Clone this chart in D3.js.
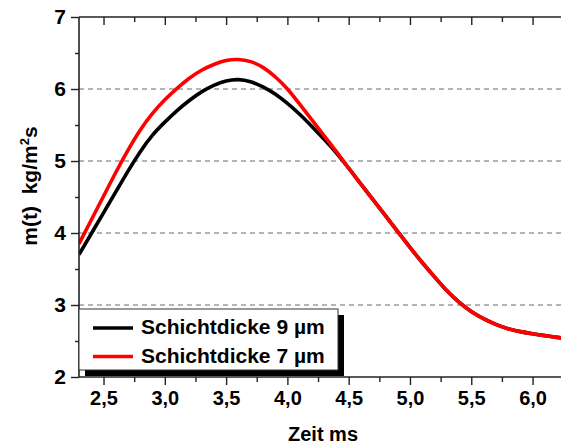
<!DOCTYPE html>
<html>
<head>
<meta charset="utf-8">
<script src="https://cdn.jsdelivr.net/npm/d3@7"></script>
<style>
  html, body { margin: 0; padding: 0; background: #fff; }
  svg { display: block; }
  .tick text { font-family: "Liberation Sans", Arial, sans-serif; font-weight: bold; }
</style>
</head>
<body>
<svg id="chart" width="561" height="445"></svg>
<script>
// Mass flux m(t) over time for two coating thicknesses
const timeMs = [2.3, 2.4, 2.5, 2.6, 2.7, 2.8, 2.9, 3.0, 3.1, 3.2, 3.3, 3.4, 3.5, 3.6, 3.7, 3.8, 3.9, 4.0, 4.1, 4.2,
                4.3, 4.4, 4.5, 4.6, 4.7, 4.8, 4.9, 5.0, 5.1, 5.2, 5.3, 5.4, 5.5, 5.6, 5.7, 5.8, 5.9, 6.0, 6.1, 6.2, 6.25];
const flux9um = [3.70, 3.99, 4.28, 4.57, 4.86, 5.13, 5.36, 5.54, 5.70, 5.84, 5.96, 6.05, 6.11, 6.13, 6.10, 6.03, 5.93, 5.80, 5.65, 5.48,
                 5.30, 5.11, 4.90, 4.68, 4.46, 4.24, 4.02, 3.80, 3.59, 3.39, 3.20, 3.04, 2.91, 2.81, 2.73, 2.67, 2.63, 2.60, 2.575, 2.55, 2.54];
const flux7um = [3.85, 4.18, 4.51, 4.84, 5.15, 5.43, 5.66, 5.85, 6.01, 6.15, 6.26, 6.34, 6.395, 6.41, 6.38, 6.30, 6.17, 6.00, 5.79, 5.57,
                 5.35, 5.13, 4.90, 4.68, 4.46, 4.24, 4.02, 3.80, 3.59, 3.39, 3.20, 3.04, 2.91, 2.81, 2.73, 2.67, 2.63, 2.60, 2.575, 2.55, 2.54];

const seriesNames = ["Schichtdicke 9 \u00b5m", "Schichtdicke 7 \u00b5m"];
const seriesColors = ["#000000", "#ff0000"];

const xMajorTicks = [2.5, 3.0, 3.5, 4.0, 4.5, 5.0, 5.5, 6.0];
const xMinorTicks = [2.75, 3.25, 3.75, 4.25, 4.75, 5.25, 5.75, 6.25];
const yMajorTicks = [2, 3, 4, 5, 6, 7];
const yMinorTicks = [2.5, 3.5, 4.5, 5.5, 6.5];
const gridValues = [3, 4, 5, 6];

const svg = d3.select("#chart");
const plotL = 79, plotR = 561, plotT = 17, plotB = 377;

const x = d3.scaleLinear().domain([2.3, 6.232]).range([plotL, plotR]);
const y = d3.scaleLinear().domain([2, 7]).range([plotB, plotT]);

const deLocale = d3.formatLocale({ decimal: ",", thousands: ".", grouping: [3], currency: ["", " €"] });
const fmtX = deLocale.format(".1f");
const fmtY = d3.format("d");

const font = '"Liberation Sans", Arial, sans-serif';

// dashed horizontal grid
svg.append("g").selectAll("line").data(gridValues).join("line")
  .attr("x1", plotL).attr("x2", plotR)
  .attr("y1", d => y(d)).attr("y2", d => y(d))
  .attr("stroke", "#6a6a6a").attr("stroke-width", 1)
  .attr("stroke-dasharray", "5,4");

// curves
const line = d3.line()
  .x(d => x(d[0])).y(d => y(d[1]))
  .curve(d3.curveNatural);

svg.append("clipPath").attr("id", "plotclip")
  .append("rect").attr("x", plotL).attr("y", plotT).attr("width", plotR - plotL).attr("height", plotB - plotT);

const curves = svg.append("g").attr("clip-path", "url(#plotclip)");
[flux9um, flux7um].forEach((vals, i) => {
  curves.append("path")
    .datum(timeMs.map((t, k) => [t, vals[k]]))
    .attr("fill", "none")
    .attr("stroke", seriesColors[i])
    .attr("stroke-width", 3.6)
    .attr("stroke-linejoin", "round")
    .attr("d", line);
});

// axes
function styleAxis(g, size) {
  g.select(".domain").remove();
  g.selectAll(".tick line").attr("stroke", "#222").attr("stroke-width", 1.4);
  g.selectAll(".tick text").attr("fill", "#000").style("font-size", size + "px");
}

svg.append("g").attr("transform", `translate(0,${plotB})`)
  .call(d3.axisBottom(x).tickValues(xMajorTicks).tickSize(8).tickPadding(6).tickFormat(fmtX))
  .call(g => styleAxis(g, 20));
svg.append("g").attr("transform", `translate(0,${plotB})`)
  .call(d3.axisBottom(x).tickValues(xMinorTicks).tickSize(5).tickFormat(""))
  .call(g => styleAxis(g, 20));

svg.append("g").attr("transform", `translate(0,${plotT})`)
  .call(d3.axisTop(x).tickValues(xMajorTicks).tickSize(-8).tickFormat(""))
  .call(g => styleAxis(g, 20));
svg.append("g").attr("transform", `translate(0,${plotT})`)
  .call(d3.axisTop(x).tickValues(xMinorTicks).tickSize(-5).tickFormat(""))
  .call(g => styleAxis(g, 20));

svg.append("g").attr("transform", `translate(${plotL},0)`)
  .call(d3.axisLeft(y).tickValues(yMajorTicks).tickSize(8).tickPadding(5).tickFormat(fmtY))
  .call(g => styleAxis(g, 21));
svg.append("g").attr("transform", `translate(${plotL},0)`)
  .call(d3.axisLeft(y).tickValues(yMinorTicks).tickSize(4).tickFormat(""))
  .call(g => styleAxis(g, 21));

// frame lines
svg.append("line").attr("x1", plotL).attr("x2", plotL).attr("y1", plotT).attr("y2", plotB)
  .attr("stroke", "#222").attr("stroke-width", 1.6);
svg.append("line").attr("x1", plotL).attr("x2", plotR).attr("y1", plotB).attr("y2", plotB)
  .attr("stroke", "#222").attr("stroke-width", 1.6);
svg.append("line").attr("x1", plotL).attr("x2", plotR).attr("y1", plotT).attr("y2", plotT)
  .attr("stroke", "#222").attr("stroke-width", 1.6);

// axis titles
svg.append("text")
  .attr("x", 323).attr("y", 441)
  .attr("text-anchor", "middle")
  .attr("font-family", font).attr("font-weight", "bold").attr("font-size", 20)
  .text("Zeit ms");

const yTitle = svg.append("text")
  .attr("transform", "translate(37,186) rotate(-90)")
  .attr("text-anchor", "middle")
  .attr("font-family", font).attr("font-weight", "bold").attr("font-size", 21);
yTitle.append("tspan").text("m(t)\u00a0\u00a0kg/m");
yTitle.append("tspan").attr("dy", -8).attr("font-size", 13).text("2");
yTitle.append("tspan").attr("dy", 8).text("s");

// legend with drop shadow
const lg = svg.append("g");
const lgX = 79, lgY = 309, lgW = 259, lgH = 61;
lg.append("rect").attr("x", lgX + 6).attr("y", lgY + 6).attr("width", lgW).attr("height", lgH).attr("fill", "#000");
lg.append("rect").attr("x", lgX).attr("y", lgY).attr("width", lgW).attr("height", lgH)
  .attr("fill", "#fff").attr("stroke", "#333").attr("stroke-width", 1);

seriesNames.forEach((name, i) => {
  const cy = 328 + i * 28.5;
  lg.append("line").attr("x1", 93).attr("x2", 133).attr("y1", cy).attr("y2", cy)
    .attr("stroke", seriesColors[i]).attr("stroke-width", 3.6);
  lg.append("text").attr("x", 141).attr("y", cy + 6)
    .attr("font-family", font).attr("font-weight", "bold").attr("font-size", 21)
    .text(name);
});
</script>
</body>
</html>
